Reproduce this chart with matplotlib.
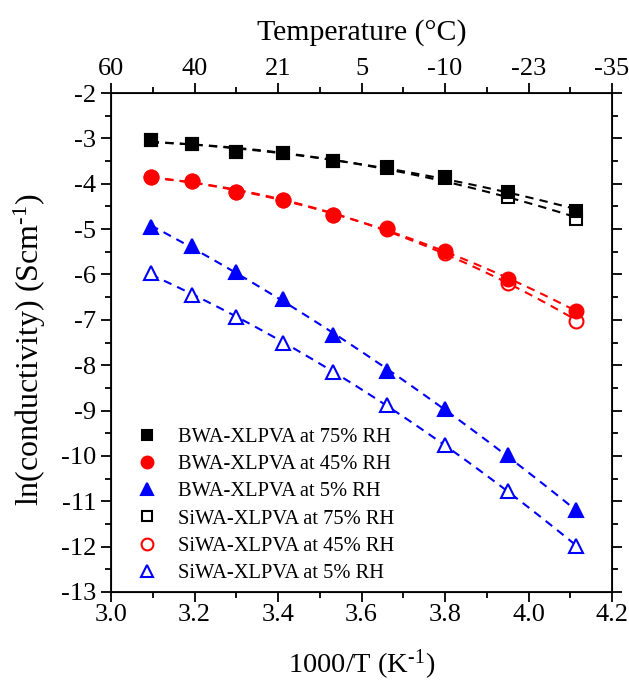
#!/usr/bin/env python3
"""Arrhenius plot of BWA-XLPVA and SiWA-XLPVA conductivity at three humidities."""

import matplotlib

matplotlib.use("Agg")
import matplotlib.pyplot as plt
import numpy as np

# 1000/T for 50 ... -30 degC in 10 degC steps
inv_t = [3.095, 3.193, 3.299, 3.411, 3.532, 3.661, 3.800, 3.950, 4.113]

bwa_75 = [-3.03, -3.13, -3.30, -3.33, -3.50, -3.64, -3.85, -4.18, -4.59]
bwa_45 = [-3.85, -3.95, -4.18, -4.36, -4.70, -4.98, -5.48, -6.10, -6.80]
bwa_5 = [-4.95, -5.38, -5.94, -6.55, -7.33, -8.12, -8.97, -9.99, -11.20]
siwa_75 = [-3.03, -3.13, -3.30, -3.33, -3.50, -3.65, -3.88, -4.30, -4.77]
siwa_45 = [-3.85, -3.95, -4.18, -4.36, -4.70, -4.99, -5.52, -6.19, -7.02]
siwa_5 = [-5.97, -6.45, -6.94, -7.50, -8.16, -8.87, -9.75, -10.78, -11.98]

labels = [
    "BWA-XLPVA at 75% RH",
    "BWA-XLPVA at 45% RH",
    "BWA-XLPVA at 5% RH",
    "SiWA-XLPVA at 75% RH",
    "SiWA-XLPVA at 45% RH",
    "SiWA-XLPVA at 5% RH",
]
x_ticks = [3.0, 3.2, 3.4, 3.6, 3.8, 4.0, 4.2]
temp_labels = ["60", "40", "21", "5", "-10", "-23", "-35"]
y_ticks = list(range(-13, -1))

plt.rcParams["font.family"] = ["Liberation Serif", "DejaVu Serif"]
plt.rcParams["axes.unicode_minus"] = False
plt.rcParams["mathtext.fontset"] = "custom"
plt.rcParams["mathtext.rm"] = "Liberation Serif"
plt.rcParams["mathtext.it"] = "Liberation Serif:italic"

fig = plt.figure(figsize=(6.29, 6.81), dpi=100)
ax = fig.add_axes([0.1765, 0.1307, 0.7965, 0.7327])

series = [
    (bwa_75, "black", "s", True),
    (bwa_45, "red", "o", True),
    (bwa_5, "blue", "^", True),
    (siwa_75, "black", "s", False),
    (siwa_45, "red", "o", False),
    (siwa_5, "blue", "^", False),
]
sizes = {"s": 8.5, "o": 10, "^": 10}
x = np.asarray(inv_t)
xs = np.linspace(x.min(), x.max(), 100)
for (vals, color, marker, filled), label in zip(series, labels):
    coef = np.polyfit(x, vals, 2)
    ax.plot(xs, np.polyval(coef, xs), color=color, lw=1.5, ls=(0, (4, 3)), zorder=2)
    ax.plot(x, vals, ls="none", marker=marker, ms=sizes[marker],
            mfc=color if filled else "white", mec=color, mew=1.5,
            label=label, zorder=4 if filled else 3)

ax.set_xlim(3.0, 4.2)
ax.set_ylim(-13, -2)
ax.set_xticks(x_ticks)
ax.set_xticks(np.arange(3.1, 4.2, 0.2), minor=True)
ax.set_yticks(y_ticks)
ax.set_yticks(np.arange(-12.5, -2, 1.0), minor=True)
ax.xaxis.set_major_formatter(matplotlib.ticker.FormatStrFormatter("%.1f"))
ax.tick_params(which="both", direction="out", labelsize=19, right=True, width=1.3)
ax.tick_params(which="major", length=7)
ax.tick_params(which="minor", length=4)
ax.tick_params(axis="x", which="major", pad=2)
ax.tick_params(axis="y", right=True, labelright=False)
for sp in ax.spines.values():
    sp.set_linewidth(1.3)

ax.set_xlabel("1000/T (K$^{\\text{-1}}$)", fontsize=20.5, labelpad=15)
ax.set_ylabel("ln(conductivity) (Scm$^{\\text{-1}}$)", fontsize=23, labelpad=6)
ax.yaxis.set_label_coords(-0.125, 0.485)

top = ax.twiny()
top.set_xlim(ax.get_xlim())
top.set_xticks(x_ticks)
top.set_xticklabels(temp_labels)
top.set_xticks(np.arange(3.1, 4.2, 0.2), minor=True)
top.tick_params(which="both", direction="out", labelsize=19, width=1.3)
top.tick_params(which="major", length=7, pad=2.5)
top.tick_params(which="minor", length=4)
top.set_xlabel("Temperature (\u00b0C)", fontsize=21.5, labelpad=13)

leg = ax.legend(loc="lower left", frameon=False, fontsize=14.8, markerscale=0.85,
                handlelength=1.0, handletextpad=1.0, labelspacing=0.38,
                borderaxespad=0.5, bbox_to_anchor=(0.014, -0.019))

fig.savefig("out.png", dpi=100)
